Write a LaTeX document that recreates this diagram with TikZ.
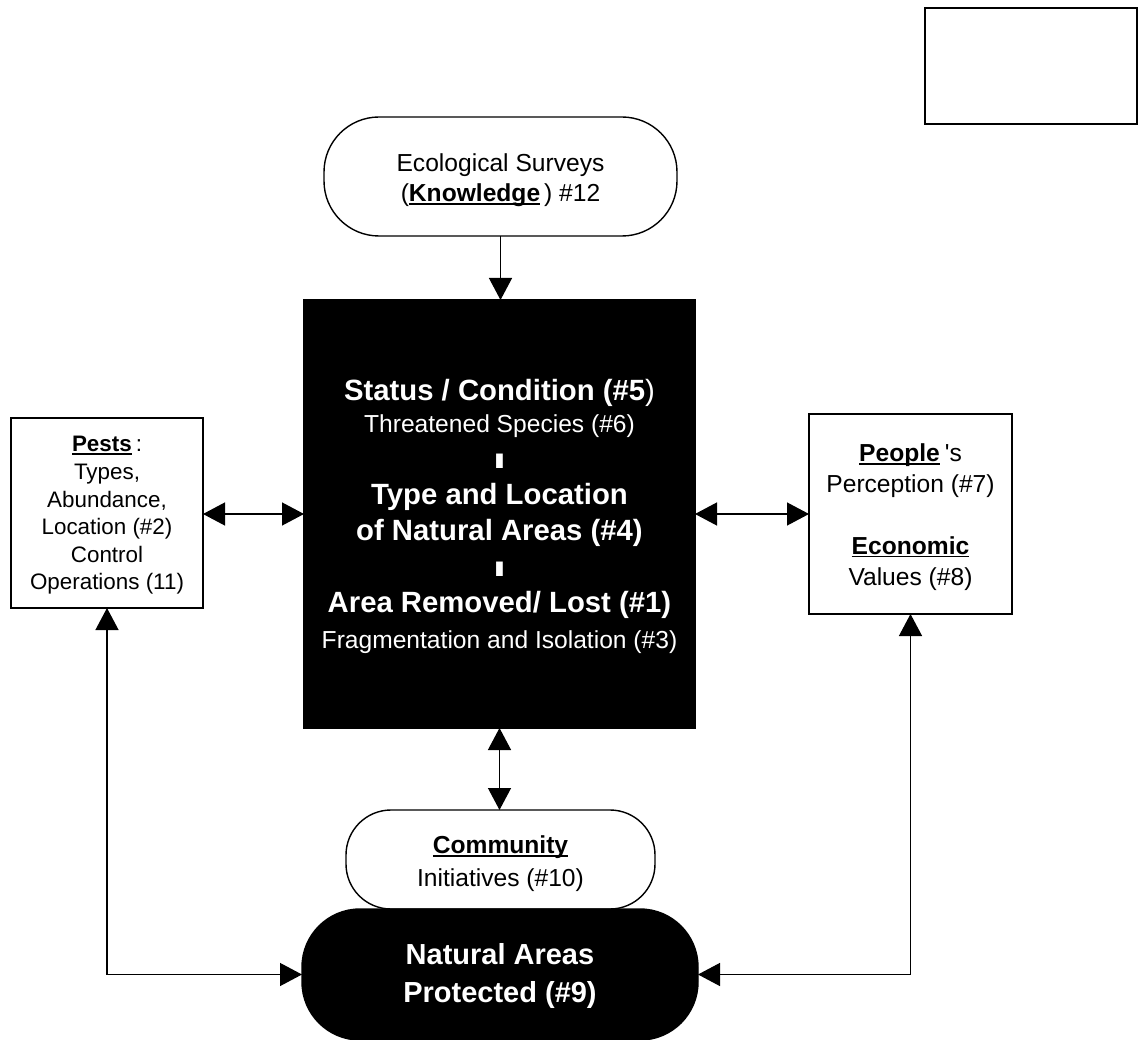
\documentclass[tikz,border=0pt]{standalone}
\usepackage{fontspec}
\usepackage{graphicx}
\setmainfont{Liberation Sans}
\usetikzlibrary{arrows.meta}
\newsavebox\myulbox
\newcommand\myul[1]{\sbox\myulbox{#1}\rlap{\rule[-3pt]{\wd\myulbox}{1.6pt}}\usebox\myulbox}
\newcommand\sepbar{\scalebox{2.2}[1]{\fontsize{21}{36}\selectfont\bfseries I}}
\tikzset{
  arr/.style={line width=1.3pt, -{Triangle[length=22pt,width=23pt]}},
  darr/.style={line width=1.3pt, {Triangle[length=22pt,width=23pt]}-{Triangle[length=22pt,width=23pt]}},
  framebox/.style={draw, line width=1.4pt, rectangle, align=center},
  roundbox/.style={draw, line width=1.4pt, rectangle, rounded corners=#1, align=center},
  blackbox/.style={draw, fill=black, text=white, line width=1.4pt, align=center}
}
\begin{document}
\begin{tikzpicture}[x=1pt,y=-1pt, every node/.style={inner sep=0pt, outer sep=0pt}]
\useasboundingbox (0,0) rectangle (1138,1040);

\node[framebox, minimum width=212pt, minimum height=116pt] (legend) at (1031,66) {};

\node[roundbox=55pt, minimum width=353pt, minimum height=119pt, font=\fontsize{24.6}{30}\selectfont] (survey) at (500.5,176.5)
  {\rule{0pt}{26pt}Ecological Surveys\\(\textbf{\myul{Knowledge}}\kern4pt) \#12};

\node[blackbox, minimum width=391pt, minimum height=428pt, font=\fontsize{29.3}{36}\selectfont\bfseries] (core) at (499.5,514)
  {\rule{0pt}{27pt}Status / Condition (\#5\textmd{)}\\[-4pt]
   {\fontsize{24.6}{36}\selectfont\mdseries Threatened Species (\#6)}\\
   \sepbar\\
   Type and Location\\
   of Natural Areas (\#4)\\
   \sepbar\\
   Area Removed/ Lost (\#1)\\
   {\fontsize{24.6}{36}\selectfont\mdseries Fragmentation and Isolation (\#3)}};

\node[framebox, minimum width=192pt, minimum height=190pt, font=\fontsize{22.4}{27.6}\selectfont] (pests) at (107,513)
  {\rule{0pt}{20.6pt}\textbf{\myul{Pests}}\kern4pt:\\Types,\\Abundance,\\Location (\#2)\\Control\\Operations (11)};

\node[framebox, minimum width=203pt, minimum height=200pt, font=\fontsize{24.6}{30.8}\selectfont] (people) at (910.5,514)
  {\rule{0pt}{24.2pt}\textbf{\myul{People}}\kern5pt\textquotesingle s\\Perception (\#7)\\[30.8pt]\textbf{\myul{Economic}}\\Values (\#8)};

\node[roundbox=45pt, minimum width=309pt, minimum height=99pt, font=\fontsize{24.6}{33}\selectfont] (comm) at (500.5,859.5)
  {\rule{0pt}{27pt}\textbf{\myul{Community}}\\Initiatives (\#10)};

\node[blackbox, rounded corners=58pt, minimum width=396pt, minimum height=131pt, font=\fontsize{29}{38}\selectfont\bfseries] (nat) at (500,974.5)
  {\rule{0pt}{25pt}Natural Areas\\Protected (\#9)};

\draw[arr] (survey.south) -- (survey.south |- core.north);
\draw[darr] (pests.east |- core.west) -- (core.west);
\draw[darr] (core.east) -- (core.east -| people.west);
\draw[darr] (core.south) -- (core.south |- comm.north);
\draw[darr] (pests.south) |- (nat.west);
\draw[darr] (people.south) |- (nat.east);
\end{tikzpicture}
\end{document}
